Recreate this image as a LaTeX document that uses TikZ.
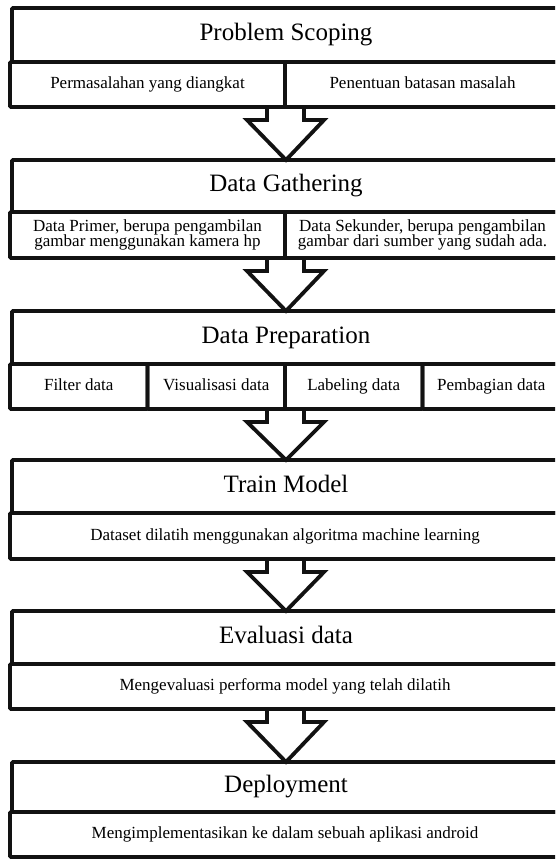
\documentclass[tikz,border=0pt]{standalone}
\usepackage{fontspec}
\setmainfont{Liberation Serif}
\usetikzlibrary{calc}
\newcommand\blockarrow[2]{%
  \draw[arrowline] ($(#1)+(-18,0)$) -- ($(#1)+(-18,13)$) -- ($(#1)+(-38,13)$)
    -- (#2.north) -- ($(#1)+(39,13)$) -- ($(#1)+(19,13)$) -- ($(#1)+(19,0)$);}
\begin{document}
\begin{tikzpicture}[x=1pt,y=-1pt,
  frame/.style={draw=black!93, line width=3.8pt, rectangle, inner sep=0pt, outer sep=0pt, rounded corners=1pt},
  titlebox/.style={frame, minimum width=548pt, text height=17pt, text depth=5.5pt, font=\fontsize{25}{30}\selectfont},
  subbox/.style={frame, font=\fontsize{17}{15.5}\selectfont, align=center},
  oneline/.style={text height=11.5pt, text depth=3.5pt},
  halfbox/.style={subbox, minimum width=275pt},
  quarterbox/.style={subbox, oneline, minimum width=137.5pt},
  fullbox/.style={subbox, oneline, minimum width=550pt},
  arrowline/.style={draw=black!93, line width=3.8pt, line join=miter}]
\useasboundingbox (0,0) rectangle (555,859);
\clip (0,0) rectangle (555,859);
\fill[white] (0,0) rectangle (555,859);

% Row 1
\node[titlebox, minimum height=54pt] (t1) at (286,35) {Problem Scoping};
\node[halfbox, oneline, minimum height=45pt] (s1a) at (147.5,84.5) {Permasalahan yang diangkat};
\node[halfbox, oneline, minimum height=45pt] (s1b) at (422.5,84.5) {Penentuan batasan masalah};

% Row 2
\node[titlebox, minimum height=52pt] (t2) at (286,186) {Data Gathering};
\node[halfbox, minimum height=46pt] (s2a) at (147.5,235) {Data Primer, berupa pengambilan\\gambar menggunakan kamera hp};
\node[halfbox, minimum height=46pt] (s2b) at (422.5,235) {Data Sekunder, berupa pengambilan\\gambar dari sumber yang sudah ada.};

% Row 3
\node[titlebox, minimum height=53pt] (t3) at (286,337.5) {Data Preparation};
\node[quarterbox, minimum height=45pt] (s3a) at (78.75,386.5) {Filter data};
\node[quarterbox, minimum height=45pt] (s3b) at (216.25,386.5) {Visualisasi data};
\node[quarterbox, minimum height=45pt] (s3c) at (353.75,386.5) {Labeling data};
\node[quarterbox, minimum height=45pt] (s3d) at (491.25,386.5) {Pembagian data};

% Row 4
\node[titlebox, minimum height=53pt] (t4) at (286,486.5) {Train Model};
\node[fullbox, minimum height=46pt] (s4) at (285,536) {Dataset dilatih menggunakan algoritma machine learning};

% Row 5
\node[titlebox, minimum height=53pt] (t5) at (286,637.5) {Evaluasi data};
\node[fullbox, minimum height=45pt] (s5) at (285,686.5) {Mengevaluasi performa model yang telah dilatih};

% Row 6
\node[titlebox, minimum height=50pt] (t6) at (286,787) {Deployment};
\node[fullbox, minimum height=45pt] (s6) at (285,834.5) {Mengimplementasikan ke dalam sebuah aplikasi android};

% Arrows
\coordinate (a1) at (s1a.south east);
\coordinate (a2) at (s2a.south east);
\coordinate (a3) at (s3b.south east);
\coordinate (a4) at (s4.south);
\coordinate (a5) at (s5.south);
\blockarrow{a1}{t2}
\blockarrow{a2}{t3}
\blockarrow{a3}{t4}
\blockarrow{a4}{t5}
\blockarrow{a5}{t6}
\end{tikzpicture}
\end{document}
